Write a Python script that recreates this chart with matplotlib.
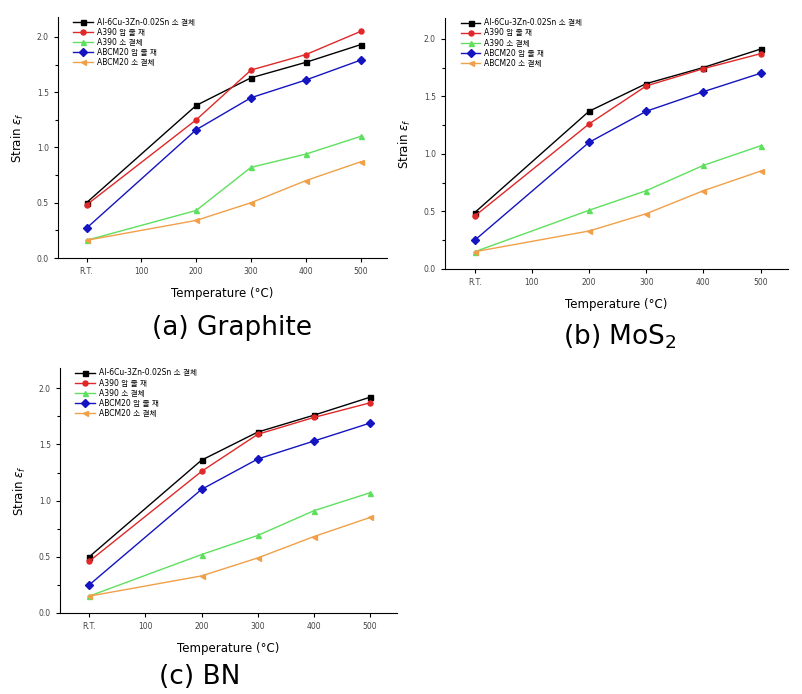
import matplotlib
matplotlib.use("Agg")
import matplotlib.pyplot as plt
from matplotlib.ticker import MultipleLocator

plt.rcParams["font.family"] = ["DejaVu Sans", "Noto Sans CJK KR"]

temps = [0, 200, 300, 400, 500]
xtick_pos = [0, 100, 200, 300, 400, 500]
xtick_labels = ["R.T.", "100", "200", "300", "400", "500"]

labels = [
    "Al-6Cu-3Zn-0.02Sn 소 결체",
    "A390 압 출 재",
    "A390 소 결체",
    "ABCM20 압 출 재",
    "ABCM20 소 결체",
]

graphite_black = [0.50, 1.38, 1.63, 1.77, 1.93]
graphite_red = [0.48, 1.25, 1.70, 1.84, 2.05]
graphite_green = [0.16, 0.43, 0.82, 0.94, 1.10]
graphite_blue = [0.27, 1.16, 1.45, 1.61, 1.79]
graphite_orange = [0.16, 0.34, 0.50, 0.70, 0.87]

mos2_black = [0.49, 1.37, 1.61, 1.75, 1.91]
mos2_red = [0.46, 1.26, 1.59, 1.74, 1.87]
mos2_green = [0.15, 0.51, 0.68, 0.90, 1.07]
mos2_blue = [0.25, 1.10, 1.37, 1.54, 1.70]
mos2_orange = [0.15, 0.33, 0.48, 0.68, 0.85]

bn_black = [0.50, 1.36, 1.61, 1.76, 1.92]
bn_red = [0.46, 1.26, 1.59, 1.74, 1.87]
bn_green = [0.15, 0.52, 0.69, 0.91, 1.07]
bn_blue = [0.25, 1.10, 1.37, 1.53, 1.69]
bn_orange = [0.15, 0.33, 0.49, 0.68, 0.85]

styles = [
    ("black", "s"),
    ("#e02828", "o"),
    ("#5ee05e", "^"),
    ("#1414c0", "D"),
    ("#f0a048", "<"),
]

W, H = 802, 694


def make_axes(fig, left, right, top, bottom):
    return fig.add_axes([left / W, 1 - bottom / H, (right - left) / W, (bottom - top) / H])


def draw_panel(ax, series, title_xy, title):
    for vals, label, (color, marker) in zip(series, labels, styles):
        ax.plot(temps, vals, color=color, marker=marker, markersize=3.6,
                linewidth=1.0, label=label)
    ax.set_xlim(-52, 548)
    ax.set_ylim(0, 2.18)
    ax.set_xticks(xtick_pos)
    ax.set_xticklabels(xtick_labels)
    ax.yaxis.set_major_locator(MultipleLocator(0.5))
    ax.yaxis.set_minor_locator(MultipleLocator(0.25))
    ax.yaxis.set_major_formatter(matplotlib.ticker.FormatStrFormatter("%.1f"))
    for side in ("top", "right"):
        ax.spines[side].set_visible(False)
    ax.tick_params(direction="out", labelsize=5.5, labelcolor="#444444",
                   length=3, width=0.8)
    ax.tick_params(which="minor", length=2, width=0.8)
    ax.set_xlabel("Temperature (°C)", fontsize=8.5, labelpad=8)
    ax.set_ylabel("Strain $\\varepsilon_f$", fontsize=8.5, labelpad=8)
    ax.legend(loc="upper left", bbox_to_anchor=(0.03, 1.02), frameon=False,
              fontsize=5.5, handlelength=2.6, labelspacing=0.15,
              borderpad=0.2, handletextpad=0.5)
    fig = ax.figure
    fig.text(title_xy[0] / W, 1 - title_xy[1] / H, title, fontsize=19,
             ha="center", va="center")


fig = plt.figure(figsize=(W / 100, H / 100), dpi=100)

ax_a = make_axes(fig, 58, 387, 17, 258)
draw_panel(ax_a, [graphite_black, graphite_red, graphite_green, graphite_blue,
                  graphite_orange], (232, 328), "(a) Graphite")

ax_b = make_axes(fig, 445, 788, 18, 269)
draw_panel(ax_b, [mos2_black, mos2_red, mos2_green, mos2_blue, mos2_orange],
           (620, 337), "(b) MoS$_2$")

ax_c = make_axes(fig, 60, 397, 368, 613)
draw_panel(ax_c, [bn_black, bn_red, bn_green, bn_blue, bn_orange],
           (200, 677), "(c) BN")

fig.savefig("out.png", dpi=100)
